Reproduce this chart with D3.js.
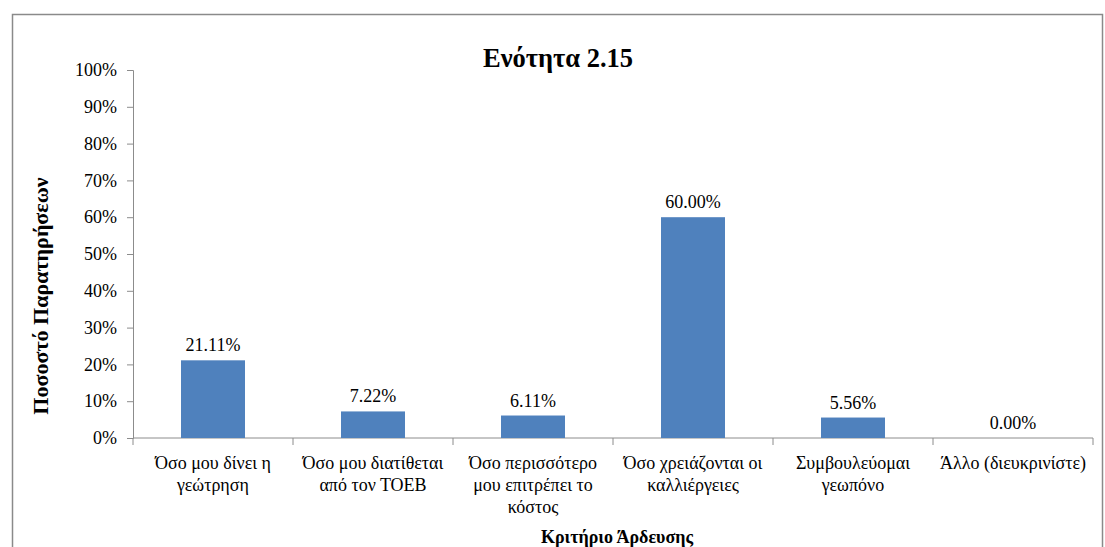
<!DOCTYPE html>
<html>
<head>
<meta charset="utf-8">
<script src="https://cdn.jsdelivr.net/npm/d3@7"></script>
<style>
  html, body { margin: 0; padding: 0; background: #fff; }
  svg { display: block; }
</style>
</head>
<body>
<svg id="chart" width="1105" height="547"></svg>
<script>
// Section 2.15 — irrigation criterion, share of observations
const categories = [
  ["Όσο μου δίνει η", "γεώτρηση"],
  ["Όσο μου διατίθεται", "από τον ΤΟΕΒ"],
  ["Όσο περισσότερο", "μου επιτρέπει το", "κόστος"],
  ["Όσο χρειάζονται οι", "καλλιέργειες"],
  ["Συμβουλεύομαι", "γεωπόνο"],
  ["Άλλο (διευκρινίστε)"]
];
const values = [21.11, 7.22, 6.11, 60.00, 5.56, 0.00];
const yTicks = [0, 10, 20, 30, 40, 50, 60, 70, 80, 90, 100];
const title = "Ενότητα 2.15";
const yTitle = "Ποσοστό Παρατηρήσεων";
const xTitle = "Κριτήριο Άρδευσης";

const FONT = "Liberation Serif";
const BASE = 18;
const svg = d3.select("#chart");
const plot = { left: 133, right: 1093, top: 70, bottom: 438 };
const axisColor = "#8c8c8c";

// chart frame
svg.append("rect")
  .attr("x", 12.5).attr("y", 14.5)
  .attr("width", 1090).attr("height", 560)
  .attr("fill", "#fff").attr("stroke", "#8a8a8a").attr("stroke-width", 1.5);

const keys = categories.map((c, i) => i);
const x = d3.scaleBand().domain(keys).range([plot.left, plot.right]).paddingInner(0.6).paddingOuter(0.3);
const xBand = d3.scaleBand().domain(keys).range([plot.left, plot.right]);
const y = d3.scaleLinear().domain([0, 100]).range([plot.bottom, plot.top]);

function regular(sel) {
  return sel.attr("font-size", BASE).style("font-family", FONT).attr("fill", "#000");
}

// y axis
const yAxis = svg.append("g")
  .attr("transform", `translate(${plot.left},0)`)
  .call(d3.axisLeft(y).tickValues(yTicks).tickSize(6).tickPadding(10).tickFormat(d => d + "%"));
yAxis.attr("font-family", null).attr("font-size", null);
yAxis.select(".domain").attr("stroke", axisColor);
yAxis.selectAll(".tick line").attr("stroke", axisColor);
yAxis.selectAll(".tick text").call(regular);

// x axis with ticks at band boundaries
const xAxisG = svg.append("g").attr("transform", `translate(0,${plot.bottom})`);
xAxisG.append("line")
  .attr("x1", plot.left).attr("x2", plot.right)
  .attr("stroke", axisColor);
const boundaries = keys.map(k => xBand(k)).concat([plot.right]);
xAxisG.selectAll("line.tk").data(boundaries).join("line")
  .attr("class", "tk")
  .attr("x1", d => d).attr("x2", d => d)
  .attr("y1", 0).attr("y2", 7)
  .attr("stroke", axisColor);

// bars
svg.append("g").selectAll("rect").data(values).join("rect")
  .attr("x", (d, i) => x(i))
  .attr("width", x.bandwidth())
  .attr("y", d => y(d))
  .attr("height", d => plot.bottom - y(d))
  .attr("fill", "#4f81bd");

// value labels
svg.append("g").selectAll("text").data(values).join("text")
  .attr("x", (d, i) => x(i) + x.bandwidth() / 2)
  .attr("y", d => y(d) - 9)
  .attr("text-anchor", "middle")
  .call(regular)
  .text(d => d.toFixed(2) + "%");

// category labels
const catG = svg.append("g");
categories.forEach((lines, i) => {
  const cx = xBand(i) + xBand.bandwidth() / 2;
  const t = catG.append("text")
    .attr("x", cx)
    .attr("y", plot.bottom + 31)
    .attr("text-anchor", "middle")
    .call(regular);
  lines.forEach((ln, j) => {
    t.append("tspan")
      .attr("x", cx)
      .attr("dy", j === 0 ? 0 : 22)
      .text(ln);
  });
});

// titles
svg.append("text")
  .attr("x", 558)
  .attr("y", 67)
  .attr("text-anchor", "middle")
  .style("font-family", FONT)
  .style("font-size", "26.5px")
  .style("font-weight", "bold")
  .attr("fill", "#000")
  .text(title);

svg.append("text")
  .attr("transform", "translate(48,296) rotate(-90)")
  .attr("text-anchor", "middle")
  .style("font-family", FONT)
  .style("font-size", "22px")
  .style("font-weight", "bold")
  .attr("fill", "#000")
  .text(yTitle);

svg.append("text")
  .attr("x", 617)
  .attr("y", 543)
  .attr("text-anchor", "middle")
  .style("font-family", FONT)
  .style("font-size", "18px")
  .style("font-weight", "bold")
  .attr("fill", "#000")
  .text(xTitle);
</script>
</body>
</html>
